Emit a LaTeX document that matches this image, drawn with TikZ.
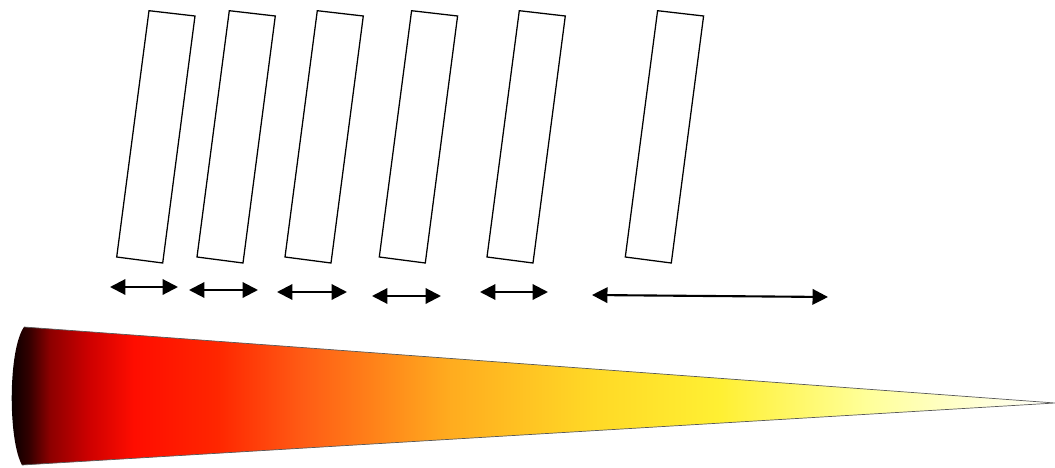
\documentclass[tikz,border=0pt]{standalone}
\usetikzlibrary{arrows.meta}

\pgfdeclarehorizontalshading{conefire}{100bp}{color(0bp)=(black); color(25bp)=(black); color(26bp)=(black!80!red); color(27bp)=(red!55!black); color(28.8bp)=(red!80!black); color(31bp)=(red!90!orange); color(35bp)=(red!70!orange); color(39bp)=(orange!60!red!92!white); color(46bp)=(orange!75!yellow!88!white); color(53bp)=(yellow!65!orange!85!white); color(59bp)=(yellow!85!orange!80!white); color(66bp)=(yellow!40!white); color(75bp)=(white); color(100bp)=(white)}

\tikzset{bar/.style={line width=0.9pt,line join=miter},
  span/.style={line width=1.5pt,{Triangle[length=11pt,width=11pt]}-{Triangle[length=11pt,width=11pt]}}}

\begin{document}
\begin{tikzpicture}[x=0.025cm,y=-0.025cm]
\useasboundingbox (0,0) rectangle (1055,468);
% bars
\coordinate (B1) at (116.7,257); \coordinate (B2) at (197,257); \coordinate (B3) at (285,257);
\coordinate (B4) at (379.3,257); \coordinate (B5) at (487,257); \coordinate (B6) at (625.3,257);
\draw[bar] (B1) -- ++(46,6) -- ++(32.3,-247) -- ++(-46,-5.3) -- cycle;
\draw[bar] (B2) -- ++(46,6) -- ++(32.3,-247) -- ++(-46,-5.3) -- cycle;
\draw[bar] (B3) -- ++(46,6) -- ++(32.3,-247) -- ++(-46,-5.3) -- cycle;
\draw[bar] (B4) -- ++(46,6) -- ++(32.3,-247) -- ++(-46,-5.3) -- cycle;
\draw[bar] (B5) -- ++(46,6) -- ++(32.3,-247) -- ++(-46,-5.3) -- cycle;
\draw[bar] (B6) -- ++(46,6) -- ++(32.3,-247) -- ++(-46,-5.3) -- cycle;
% gaps
\coordinate (L1) at (110,287); \coordinate (R1) at (178,287);
\coordinate (L2) at (189,290); \coordinate (R2) at (258,290);
\coordinate (L3) at (277,292); \coordinate (R3) at (347,292);
\coordinate (L4) at (372,296); \coordinate (R4) at (441,296);
\coordinate (L5) at (480,292); \coordinate (R5) at (548,292);
\coordinate (L6) at (592,295); \coordinate (R6) at (828,297);
\draw[span] (L1)--(R1); \draw[span] (L2)--(R2); \draw[span] (L3)--(R3);
\draw[span] (L4)--(R4); \draw[span] (L5)--(R5); \draw[span] (L6)--(R6);
% cone
\coordinate (T) at (1055,403); \coordinate (U) at (24,327); \coordinate (V) at (22,465);
\shade[shading=conefire] (T) -- (U) .. controls (8,350) and (8,440) .. (V) -- cycle;
\draw[gray!70!black,line width=0.5pt] (V) -- (T) -- (U);
\end{tikzpicture}
\end{document}
